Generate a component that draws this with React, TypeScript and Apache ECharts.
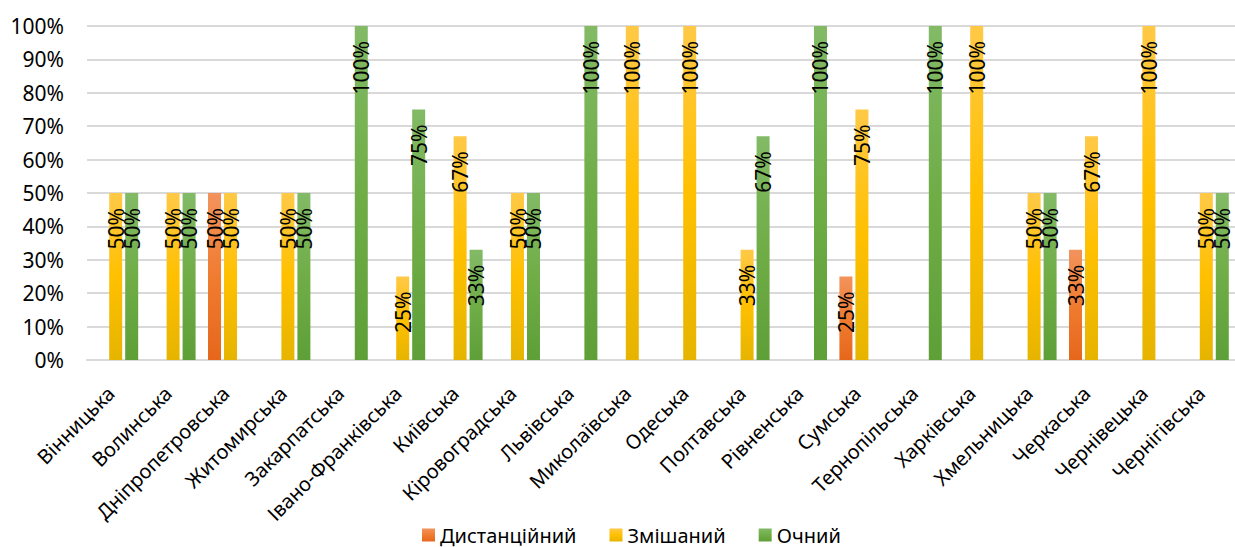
import React, { useEffect, useRef } from "react";
import * as echarts from "echarts";

const categories = [
  "Вінницька", "Волинська", "Дніпропетровська", "Житомирська", "Закарпатська",
  "Івано-Франківська", "Київська", "Кіровоградська", "Львівська", "Миколаївська",
  "Одеська", "Полтавська", "Рівненська", "Сумська", "Тернопільська",
  "Харківська", "Хмельницька", "Черкаська", "Чернівецька", "Чернігівська",
];
const distanceValues = [0, 0, 50, 0, 0, 0, 0, 0, 0, 0, 0, 0, 0, 25, 0, 0, 0, 33, 0, 0];
const mixedValues = [50, 50, 50, 50, 0, 25, 67, 50, 0, 100, 100, 33, 0, 75, 0, 100, 50, 67, 100, 50];
const inPersonValues = [50, 50, 0, 50, 100, 75, 33, 50, 100, 0, 0, 67, 100, 0, 100, 0, 50, 0, 0, 50];
const seriesNames = ["Дистанційний", "Змішаний", "Очний"];
const yTicks = [0, 10, 20, 30, 40, 50, 60, 70, 80, 90, 100];

const FONT = "'Noto Sans', 'Open Sans', sans-serif";

function grad(top: string, mid: string, bottom: string) {
  return new echarts.graphic.LinearGradient(0, 0, 0, 1, [
    { offset: 0, color: top },
    { offset: 0.5, color: mid },
    { offset: 1, color: bottom },
  ]);
}

export default function App() {
  const ref = useRef<HTMLDivElement>(null);
  useEffect(() => {
    document.body.style.margin = "0";
    const chart = echarts.init(ref.current!, undefined, { renderer: "svg" });
    const colors = [
      grad("#F2935D", "#F07C30", "#E5671C"),
      grad("#FFC947", "#FFC000", "#E6B400"),
      grad("#82BA66", "#70AD47", "#5E9F38"),
    ];
    const label = {
      show: true,
      position: "insideTop",
      distance: 15,
      rotate: 90,
      align: "right",
      verticalAlign: "middle",
      color: "#000",
      fontFamily: FONT,
      fontSize: 21,
      formatter: (p: any) => (p.value ? p.value + "%" : ""),
    };
    const datas = [distanceValues, mixedValues, inPersonValues];
    chart.setOption({
      animation: false,
      grid: { left: 87, right: 0, top: 26, bottom: 187, containLabel: false },
      legend: {
        top: 524,
        left: 422,
        icon: "rect",
        itemWidth: 13,
        itemHeight: 13,
        itemGap: 33,
        itemTextGap: 6,
        padding: 0,
        textStyle: { fontFamily: FONT, fontSize: 20, color: "#000", lineHeight: 22 },
        data: seriesNames,
      },
      xAxis: {
        type: "category",
        data: categories,
        axisLine: { lineStyle: { color: "#D9D9D9", width: 2 } },
        axisTick: { show: false },
        axisLabel: {
          rotate: 45,
          margin: 25,
          interval: 0,
          padding: [0, 7, 0, 0],
          fontFamily: FONT,
          fontSize: 20,
          color: "#000",
        },
      },
      yAxis: {
        type: "value",
        min: yTicks[0],
        max: yTicks[yTicks.length - 1],
        interval: 10,
        axisLabel: {
          formatter: "{value}%",
          fontFamily: FONT,
          fontSize: 21,
          color: "#000",
          margin: 23,
        },
        axisLine: { show: false },
        axisTick: { show: false },
        splitLine: { lineStyle: { color: "#D9D9D9", width: 2 } },
      },
      series: seriesNames.map((name, i) => ({
        name,
        type: "bar",
        data: datas[i],
        barWidth: 13,
        barGap: "23%",
        itemStyle: { color: colors[i] },
        label,
      })),
    });
    return () => chart.dispose();
  }, []);
  return (
    <div
      ref={ref}
      style={{ position: "fixed", left: 0, top: 0, width: 1235, height: 547, background: "#fff" }}
    />
  );
}
